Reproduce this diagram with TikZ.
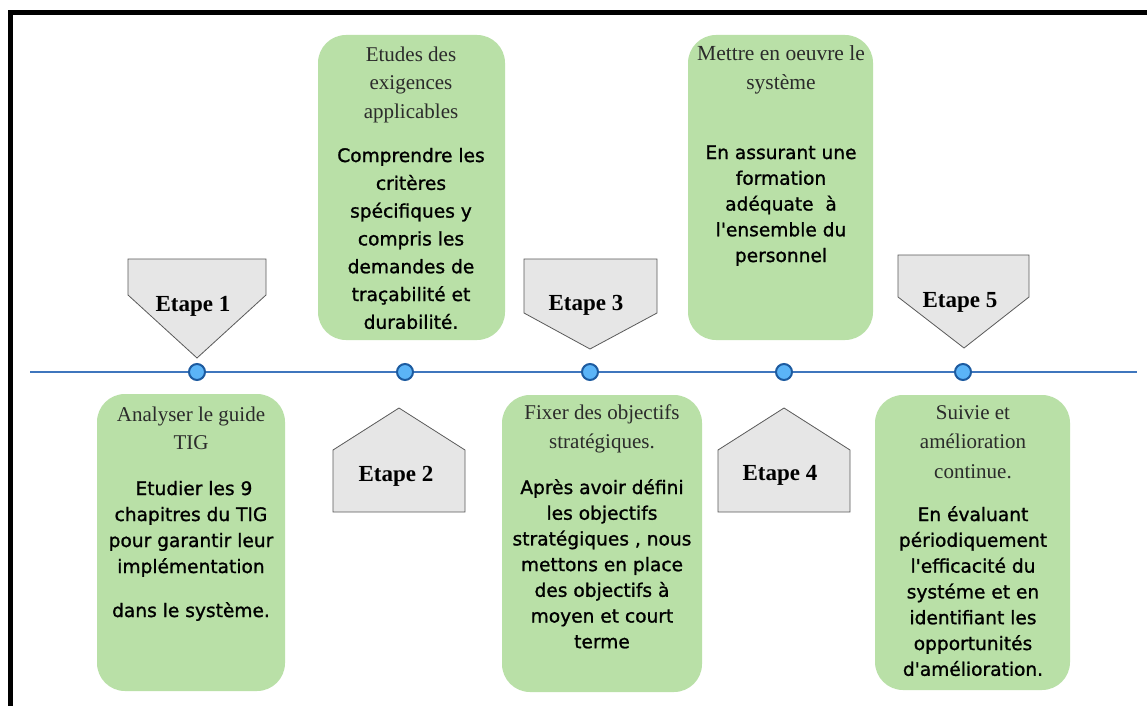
\documentclass[tikz,border=0pt]{standalone}
\usepackage{fontspec}
\setmainfont{Liberation Serif}
\newfontfamily\ttlfont{Liberation Serif}
\newfontfamily\bodyfont[FakeBold=1.2]{DejaVu Sans}

\definecolor{cardgreen}{HTML}{B9E0A7}
\definecolor{tagfill}{HTML}{E6E6E6}
\definecolor{tagline}{HTML}{5A5A5A}
\definecolor{axisblue}{HTML}{3F76BD}
\definecolor{dotfill}{HTML}{5BB4F7}
\definecolor{dotline}{HTML}{1D5BA0}
\definecolor{ttlgray}{HTML}{2B2B2B}

% multi-line nodes below are placed by the baseline of their last line
\tikzset{
  card/.style={fill=cardgreen, draw=none, rounded corners=28pt, inner sep=0pt},
  ttl/.style={font=\ttlfont\fontsize{21}{28.5}\selectfont, text=ttlgray, align=center, inner sep=0pt, anchor=base},
  body/.style={font=\bodyfont\fontsize{18.6}{26}\selectfont, text=black, align=center, inner sep=0pt, anchor=base},
  tag/.style={fill=tagfill, draw=tagline, line width=0.8pt, line join=miter},
  taglabel/.style={font=\ttlfont\bfseries\fontsize{23}{23}\selectfont, text=black, inner sep=0pt, anchor=base},
  axis/.style={draw=axisblue, line width=2pt},
  dot/.style={circle, fill=dotfill, draw=dotline, line width=2pt, minimum size=16pt, inner sep=0pt},
  frame/.style={draw=black, line width=5pt}
}

\begin{document}
\begin{tikzpicture}[x=1pt,y=-1pt]
\useasboundingbox (0,0) rectangle (1147,706);
\fill[white] (0,0) rectangle (1147,706);

% outer frame (top and left edges)
\draw[frame] (8,13) -- (1147,13);
\draw[frame] (10.5,10.5) -- (10.5,706);

% cards
\node[card, minimum width=188pt, minimum height=297pt] (c1) at (191,542.5) {};
\node[card, minimum width=187pt, minimum height=305pt] (c2) at (411.5,187.5) {};
\node[card, minimum width=200pt, minimum height=297pt] (c3) at (602,543.5) {};
\node[card, minimum width=185pt, minimum height=305pt] (c4) at (780.5,187.5) {};
\node[card, minimum width=195pt, minimum height=295pt] (c5) at (972.5,542.5) {};

% card texts
\node[ttl] (t1) at (191,449.5) {Analyser le guide\\TIG};
\node[body] (b1) at (191,617) {\ Etudier les 9\\chapitres du TIG\\pour garantir leur\\implémentation\ \\[18pt]dans le système.};

\node[ttl] (t2) at (411,118) {Etudes des\\exigences\\applicables};
\node[body, font=\bodyfont\fontsize{18.6}{27.8}\selectfont] (b2) at (411,328.8) {Comprendre les\\critères\\spécifiques y\\compris les\\demandes de\\traçabilité et\\durabilité.};

\node[ttl, font=\ttlfont\fontsize{21}{29}\selectfont] (t3) at (602,448) {Fixer des objectifs\\stratégiques.};
\node[body, font=\bodyfont\fontsize{18.6}{25.7}\selectfont] (b3) at (602,648.2) {Après avoir défini\\les objectifs\\stratégiques , nous\\mettons en place\\des objectifs à\\moyen et court\\terme};

\node[ttl, font=\ttlfont\fontsize{21.5}{29}\selectfont] (t4) at (781,90) {Mettre en oeuvre le\\système};
\node[body, font=\bodyfont\fontsize{18.6}{25.75}\selectfont] (b4) at (781,262) {En assurant une\\formation\\adéquate~ à\\l'ensemble du\\personnel};

\node[ttl, font=\ttlfont\fontsize{21}{29.5}\selectfont] (t5) at (973,478) {Suivie et\\amélioration\\continue.};
\node[body, font=\bodyfont\fontsize{18.6}{25.8}\selectfont] (b5) at (973,675.8) {En évaluant\\périodiquement\\l'efficacité du\\systéme et en\\identifiant les\\opportunités\\d'amélioration.};

% timeline
\coordinate (axA) at (30,372);
\coordinate (axB) at (1137,372);
\draw[axis] (axA) -- (axB);

% step tags
\path[tag] (128,259) -- (266,259) -- (266,295) -- (197,358) -- (128,295) -- cycle;
\path[tag] (333,512) -- (333,450) -- (399,408) -- (465,450) -- (465,512) -- cycle;
\path[tag] (524,259) -- (657,259) -- (657,313) -- (590,349) -- (524,313) -- cycle;
\path[tag] (718,512) -- (718,450) -- (784,408) -- (850,450) -- (850,512) -- cycle;
\path[tag] (898,255) -- (1029,255) -- (1029,297) -- (964,348) -- (898,297) -- cycle;

\node[taglabel] (e1) at (193,311) {Etape 1};
\node[taglabel] (e2) at (396,481) {Etape 2};
\node[taglabel] (e3) at (586,310) {Etape 3};
\node[taglabel] (e4) at (780,480) {Etape 4};
\node[taglabel] (e5) at (960,307) {Etape 5};

% milestones
\node[dot] (d1) at (197,372) {};
\node[dot] (d2) at (405,372) {};
\node[dot] (d3) at (590,372) {};
\node[dot] (d4) at (784,372) {};
\node[dot] (d5) at (963,372) {};
\end{tikzpicture}
\end{document}
